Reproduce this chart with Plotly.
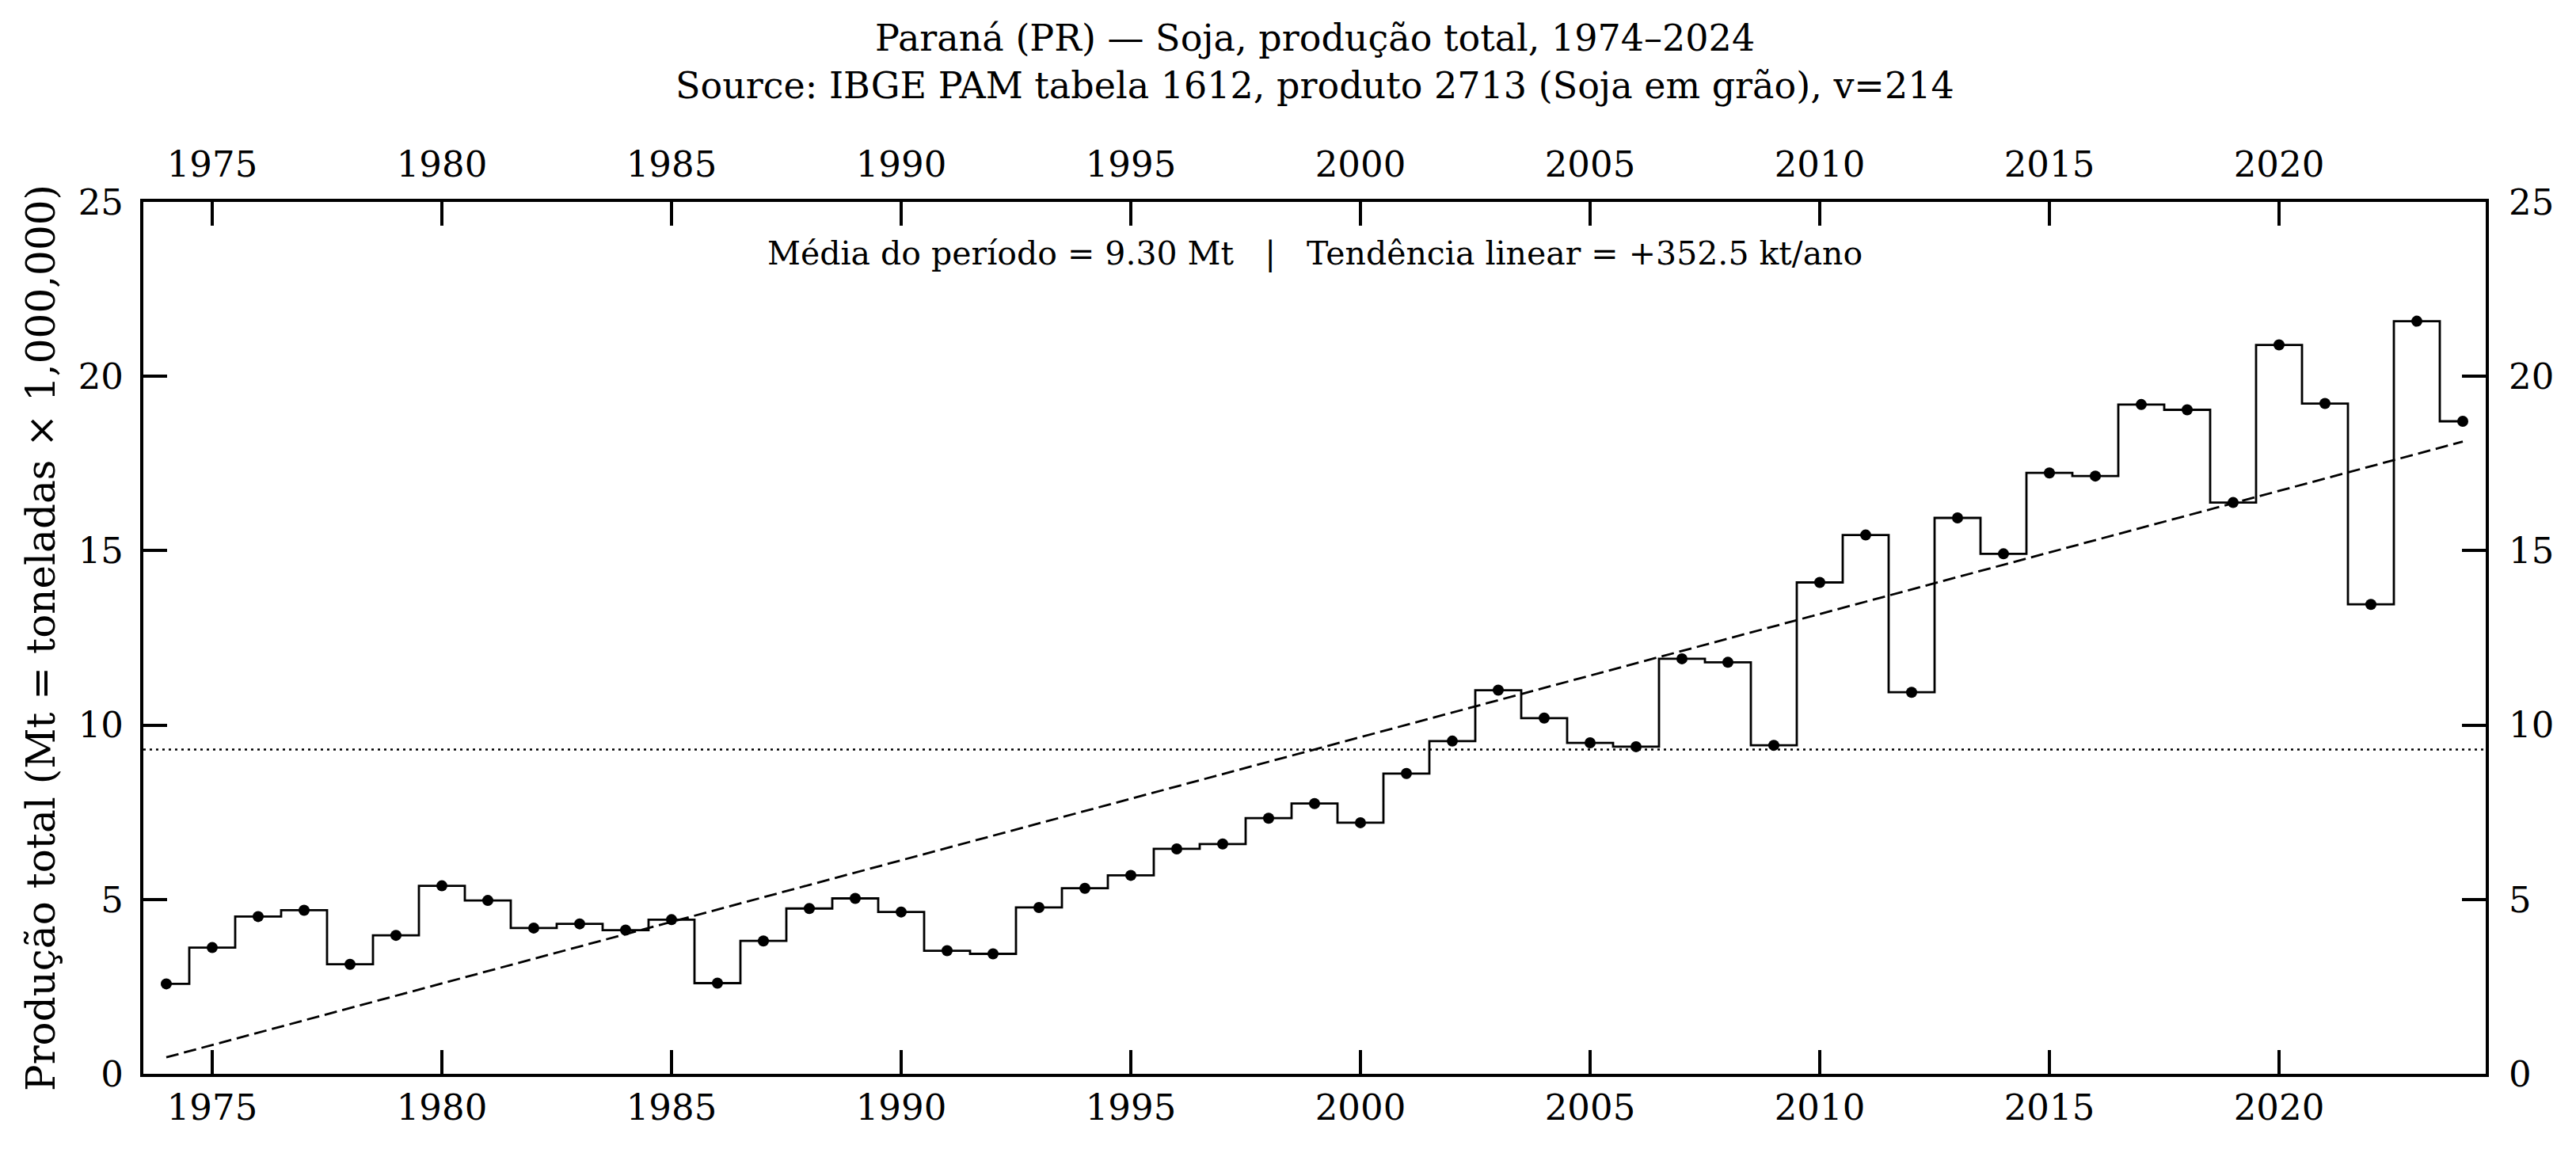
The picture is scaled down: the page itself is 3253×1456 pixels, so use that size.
import numpy as np
import plotly.graph_objects as go

years = list(range(1974, 2025))
production_mt = [
    2.58, 3.62, 4.51, 4.69, 3.14, 3.97, 5.39, 4.97, 4.18, 4.30,
    4.12, 4.42, 2.60, 3.81, 4.74, 5.03, 4.64, 3.53, 3.44, 4.77,
    5.32, 5.69, 6.45, 6.59, 7.33, 7.75, 7.20, 8.61, 9.54, 11.00,
    10.20, 9.49, 9.38, 11.90, 11.80, 9.42, 14.09, 15.45, 10.94, 15.94,
    14.91, 17.23, 17.14, 19.19, 19.04, 16.38, 20.90, 19.22, 13.46, 21.58,
    18.71,
]
tick_years = [1975, 1980, 1985, 1990, 1995, 2000, 2005, 2010, 2015, 2020]
y_ticks = [0, 5, 10, 15, 20, 25]

stated_mean_mt = 9.30
stated_trend_kt_per_year = 352.5

title_line1 = "Paraná (PR) — Soja, produção total, 1974–2024"
title_line2 = "Source: IBGE PAM tabela 1612, produto 2713 (Soja em grão), v=214"
y_title = "Produção total (Mt = toneladas × 1,000,000)"

x = np.array(years, dtype=float)
y = np.array(production_mt)
mean_val = float(np.mean(y))
slope, intercept = np.polyfit(x, y, 1)
trend = slope * x + intercept

FONT = "DejaVu Serif"
BLACK = "#000000"

fig = go.Figure()
fig.add_trace(go.Scatter(x=[1973.5, 2024.5], y=[mean_val, mean_val], mode="lines",
                         line=dict(color=BLACK, width=2.5, dash="3px,5px"),
                         hoverinfo="skip", showlegend=False))
fig.add_trace(go.Scatter(x=years, y=list(trend), mode="lines",
                         line=dict(color=BLACK, width=2.8, dash="16px,7px"),
                         showlegend=False))
fig.add_trace(go.Scatter(x=years, y=production_mt, mode="lines",
                         line=dict(color=BLACK, width=2.8, shape="hvh"),
                         showlegend=False))
fig.add_trace(go.Scatter(x=years, y=production_mt, mode="markers",
                         marker=dict(color=BLACK, size=14),
                         showlegend=False))
# dummy trace to activate secondary (top/right) axes
fig.add_trace(go.Scatter(x=years, y=production_mt, mode="markers",
                         marker=dict(opacity=0), xaxis="x2", yaxis="y2",
                         hoverinfo="skip", showlegend=False))

axis_common = dict(
    ticks="inside", ticklen=30, tickwidth=4, tickcolor=BLACK,
    showline=True, linewidth=4, linecolor=BLACK,
    showgrid=False, zeroline=False,
    tickfont=dict(family=FONT, size=45, color=BLACK),
)
xr = [1973.5, 2024.5]
yr = [0, 25]

fig.update_layout(
    width=3253, height=1456,
    margin=dict(l=181, r=114, t=255, b=100),
    paper_bgcolor="white", plot_bgcolor="white",
    xaxis=dict(range=xr, tickvals=tick_years, mirror=True, **axis_common),
    yaxis=dict(range=yr, tickvals=y_ticks, mirror=True, ticklabelstandoff=12,
               title=dict(text=y_title, font=dict(family=FONT, size=50, color=BLACK), standoff=14),
               **axis_common),
    xaxis2=dict(range=xr, tickvals=tick_years, overlaying="x", side="top",
                anchor="y", ticklabelstandoff=10, **axis_common),
    yaxis2=dict(range=yr, tickvals=y_ticks, overlaying="y", side="right",
                anchor="x", ticklabelstandoff=16, **axis_common),
    annotations=[
        dict(text=title_line1, xref="paper", yref="paper", x=0.5, y=1, yshift=207,
             showarrow=False, font=dict(family=FONT, size=46, color=BLACK),
             xanchor="center", yanchor="middle"),
        dict(text=title_line2, xref="paper", yref="paper", x=0.5, y=1, yshift=147,
             showarrow=False, font=dict(family=FONT, size=46, color=BLACK),
             xanchor="center", yanchor="middle"),
        dict(text="Média do período = %.2f Mt\u00a0\u00a0\u00a0|\u00a0\u00a0\u00a0Tendência linear = +%.1f kt/ano"
                  % (stated_mean_mt, stated_trend_kt_per_year),
             xref="paper", yref="paper", x=0.5, y=1, yshift=-65,
             showarrow=False, font=dict(family=FONT, size=41, color=BLACK),
             xanchor="center", yanchor="middle"),
    ],
)

fig.write_html("out.html")
